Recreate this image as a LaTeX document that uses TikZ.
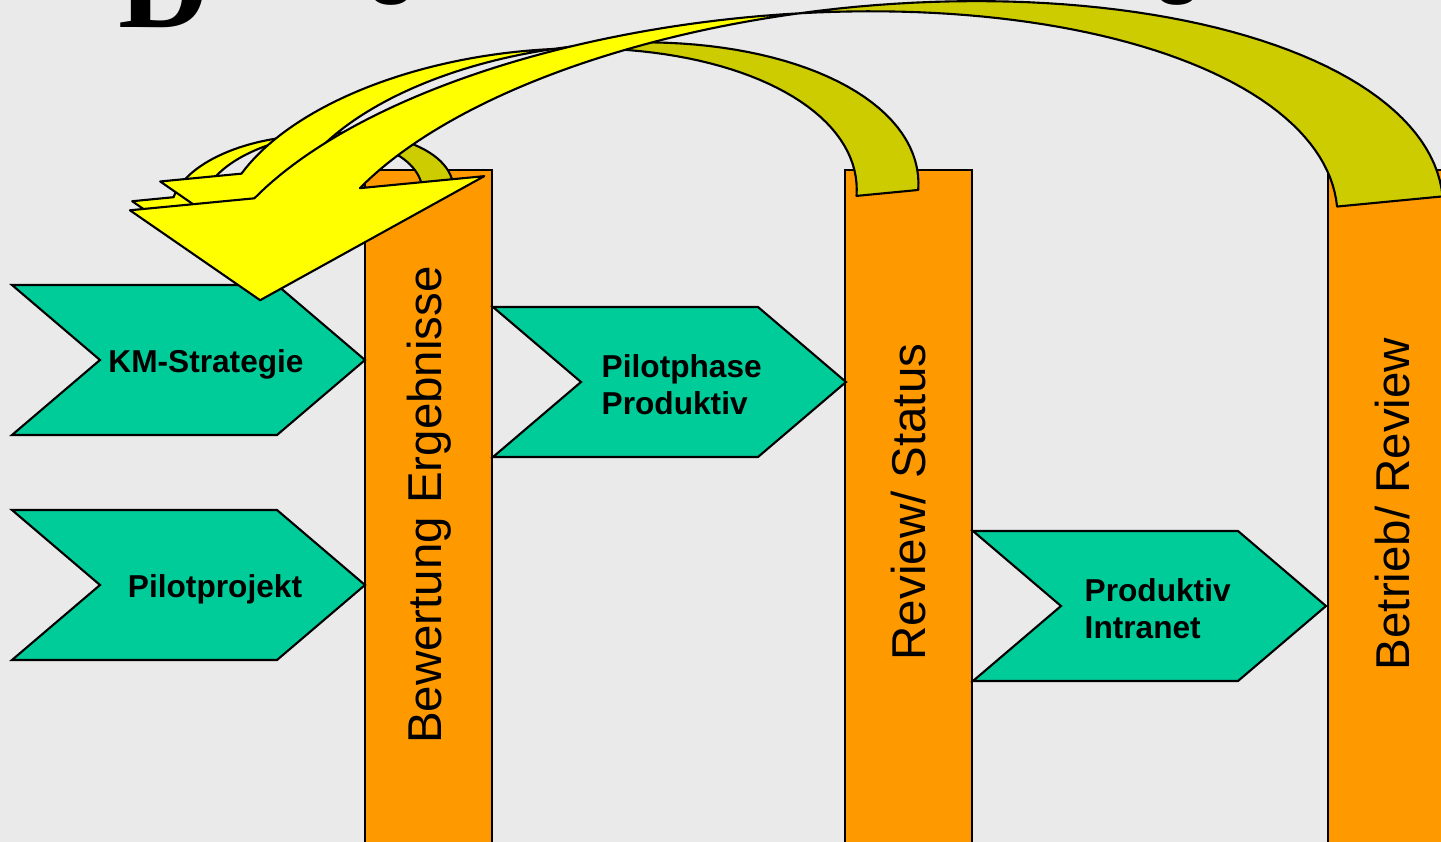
\documentclass[tikz,border=0pt]{standalone}
\usepackage{fontspec}
\setmainfont{Liberation Sans}
\newfontfamily\titlefont{Liberation Serif}
\definecolor{kmgray}{HTML}{EAEAEA}
\definecolor{kmgreen}{HTML}{00CC99}
\definecolor{kmorange}{HTML}{FF9900}
\definecolor{kmyellow}{HTML}{FFFF00}
\definecolor{kmolive}{HTML}{CCCC00}
\newcommand{\chevron}[2]{\filldraw[chev] (#1,#2) -- ++(265,0) -- ++(88,75) -- ++(-88,75) -- ++(-265,0) -- ++(88,-75) -- cycle;}

\begin{document}
\begin{tikzpicture}[x=0.01cm, y=-0.01cm,
chev/.style={fill=kmgreen, draw=black, line width=0.6pt},
bar/.style={fill=kmorange, draw=black, line width=0.6pt},
front/.style={fill=kmyellow, draw=black, line width=0.6pt, line join=round},
back/.style={fill=kmolive, draw=black, line width=0.6pt, line join=round},
lbl/.style={font=\bfseries\fontsize{9}{10.5}\selectfont, align=left, inner sep=0pt},
barlbl/.style={font=\fontsize{13.5}{16}\selectfont, rotate=90, inner sep=0pt},
titlebit/.style={anchor=base, inner sep=0pt, font=\bfseries\fontsize{24}{24}\selectfont}
]
\fill[kmgray] (0,0) rectangle (1441,842);
\useasboundingbox (0,0) rectangle (1441,842);

\node[anchor=base west, inner sep=0pt, font=\titlefont\bfseries\fontsize{36}{36}\selectfont] (initial) at (118,27) {D};
\node[titlebit] (g1) at (392,-13) {g};
\node[titlebit] (g2) at (1178,-13) {g};

\filldraw[bar] (365,170) rectangle (492,850);
\filldraw[bar] (845,170) rectangle (972,850);
\filldraw[bar] (1328,170) rectangle (1455,850);
\node[barlbl] (bew) at (429,505) {Bewertung Ergebnisse};
\node[barlbl] (rev) at (909,502) {Review/ Status};
\node[barlbl] (betr) at (1393,504) {Betrieb/ Review};

\chevron{12}{285}
\chevron{12}{510}
\chevron{493}{307}
\chevron{973}{531}
\node[lbl] (km) at (206,364) {KM-Strategie};
\node[lbl] (pilot) at (215,589) {Pilotprojekt};
\node[lbl, anchor=base west] (phase) at (601,414) {Pilotphase\\Produktiv};
\node[lbl, anchor=base west] (intra) at (1084,638) {Produktiv\\Intranet};

% back to Bewertung Ergebnisse
\begin{scope}[shift={(300,170)}, rotate=5.5]
\filldraw[back] plot[domain=262.93:360, samples=30] ({25+126*cos(\x)},{30+64*sin(\x)})
  -- plot[domain=360:277.07, samples=30] ({-6+126*cos(\x)},{30+64*sin(\x)}) -- cycle;
\filldraw[front] (-170,15) -- plot[domain=193.6:277.07, samples=30] ({-6+126*cos(\x)},{30+64*sin(\x)})
  -- plot[domain=262.93:193.6, samples=30] ({25+126*cos(\x)},{30+64*sin(\x)}) -- (-56,15) -- (-131,48) -- cycle;
\end{scope}

% back to Review/ Status
\begin{scope}[shift={(560,150)}, rotate=5.5]
\filldraw[back] plot[domain=264.44:365, samples=40] ({34+320*cos(\x)},{60+162*sin(\x)})
  -- plot[domain=365:275.56, samples=40] ({-28+320*cos(\x)},{60+162*sin(\x)}) -- cycle;
\filldraw[front] (-401,-7) -- plot[domain=204.43:275.56, samples=40] ({-28+320*cos(\x)},{60+162*sin(\x)})
  -- plot[domain=264.44:204.43, samples=40] ({34+320*cos(\x)},{60+162*sin(\x)}) -- (-176,-7) -- (-324,58) -- cycle;
\end{scope}

% back to Betrieb/ Review
\begin{scope}[shift={(800,200)}, rotate=5.5]
\filldraw[back] plot[domain=264.66:360, samples=50] ({70+570*cos(\x)},{58+245*sin(\x)})
  -- plot[domain=360:275.34, samples=50] ({-36+570*cos(\x)},{58+245*sin(\x)}) -- cycle;
\filldraw[front] (-668,-54) -- plot[domain=207.2:275.34, samples=50] ({-36+570*cos(\x)},{58+245*sin(\x)})
  -- plot[domain=264.66:207.2, samples=50] ({70+570*cos(\x)},{58+245*sin(\x)}) -- (-312,-54) -- (-547,48) -- cycle;
\end{scope}
\end{tikzpicture}
\end{document}
